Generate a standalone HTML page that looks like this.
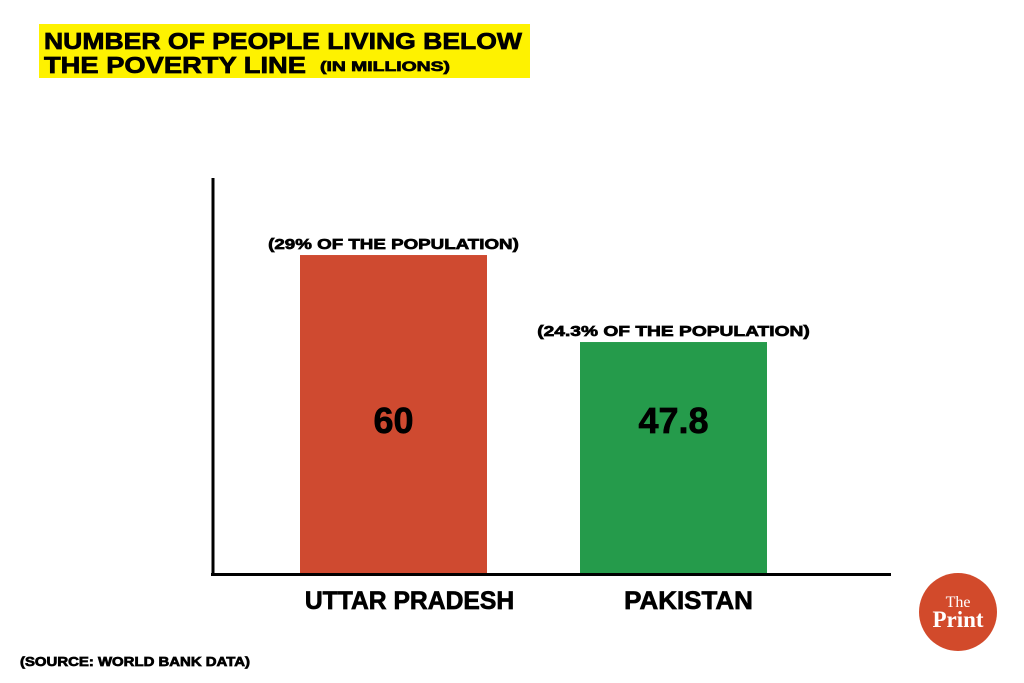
<!DOCTYPE html>
<html><head><meta charset="utf-8"><style>
body{margin:0;background:#fff;width:1024px;height:683px;overflow:hidden;font-family:"Liberation Sans",sans-serif}
text{stroke:#000;stroke-width:0.7}
</style></head><body>
<svg width="1024" height="683" viewBox="0 0 1024 683" style="display:block">
<rect x="39" y="24" width="491" height="54" fill="#fef200"/>
<text x="44" y="49" font-size="23" font-weight="bold" fill="#000" textLength="478" lengthAdjust="spacingAndGlyphs">NUMBER OF PEOPLE LIVING BELOW</text>
<text x="44" y="73" font-size="23" font-weight="bold" fill="#000" textLength="262" lengthAdjust="spacingAndGlyphs">THE POVERTY LINE</text>
<text x="320" y="71" font-size="14" font-weight="bold" fill="#000" textLength="130" lengthAdjust="spacingAndGlyphs">(IN MILLIONS)</text>
<g id="bars"></g>
<line x1="213" y1="178" x2="213" y2="576" stroke="#000" stroke-width="3"/>
<line x1="211" y1="574.5" x2="891" y2="574.5" stroke="#000" stroke-width="3"/>
<text x="20" y="666" font-size="13" font-weight="bold" textLength="230" lengthAdjust="spacingAndGlyphs">(SOURCE: WORLD BANK DATA)</text>
<g>
<circle cx="958" cy="612" r="39" fill="#d24a2b"/>
<text x="958" y="607" font-family="Liberation Serif,serif" font-size="16" fill="#fff" stroke="none" style="stroke:none" text-anchor="middle">The</text>
<text x="958" y="627" font-family="Liberation Serif,serif" font-size="23" font-weight="bold" fill="#fff" style="stroke:none" text-anchor="middle">Print</text>
</g>
</svg>
<script>
const categories=["UTTAR PRADESH","PAKISTAN"];
const values=[60,47.8];
const valueLabels=["60","47.8"];
const shareLabels=["(29% OF THE POPULATION)","(24.3% OF THE POPULATION)"];
const colors=["#cf4a30","#259b4b"];
const baseY=574, domainMin=15.27, pxPerUnit=7.131;
function y(v){return baseY-(v-domainMin)*pxPerUnit;}
function xLeft(i){return 300+i*280;}
const barW=187;
const g=document.getElementById('bars');
const NS="http://www.w3.org/2000/svg";
function w(s,k){return s.length*k;}
categories.forEach((c,i)=>{
 const top=y(values[i]);
 const r=document.createElementNS(NS,'rect');
 r.setAttribute('x',xLeft(i));r.setAttribute('y',top);r.setAttribute('width',barW);r.setAttribute('height',baseY-top);r.setAttribute('fill',colors[i]);
 
 
 g.appendChild(r);
 const cx=xLeft(i)+barW/2;
 const t1=document.createElementNS(NS,'text');
 t1.setAttribute('x',cx);t1.setAttribute('y',top-6);t1.setAttribute('text-anchor','middle');t1.setAttribute('font-size','15');t1.setAttribute('font-weight','bold');
 t1.setAttribute('textLength',w(shareLabels[i],10.9));t1.setAttribute('lengthAdjust','spacingAndGlyphs');
 t1.textContent=shareLabels[i];
 
 
 g.appendChild(t1);
 const t2=document.createElementNS(NS,'text');
 t2.setAttribute('x',cx);t2.setAttribute('y',433);t2.setAttribute('text-anchor','middle');t2.setAttribute('font-size','36');t2.setAttribute('font-weight','bold');
 t2.textContent=valueLabels[i];
 
 
 g.appendChild(t2);
 const t3=document.createElementNS(NS,'text');
 t3.setAttribute('x',cx+(i==0?16:15));t3.setAttribute('y',609);t3.setAttribute('text-anchor','middle');t3.setAttribute('font-size','25');t3.setAttribute('font-weight','bold');
 t3.setAttribute('textLength',w(c,16.1));t3.setAttribute('lengthAdjust','spacingAndGlyphs');
 t3.textContent=c;
 
 
 g.appendChild(t3);
});
</script>
</body></html>
